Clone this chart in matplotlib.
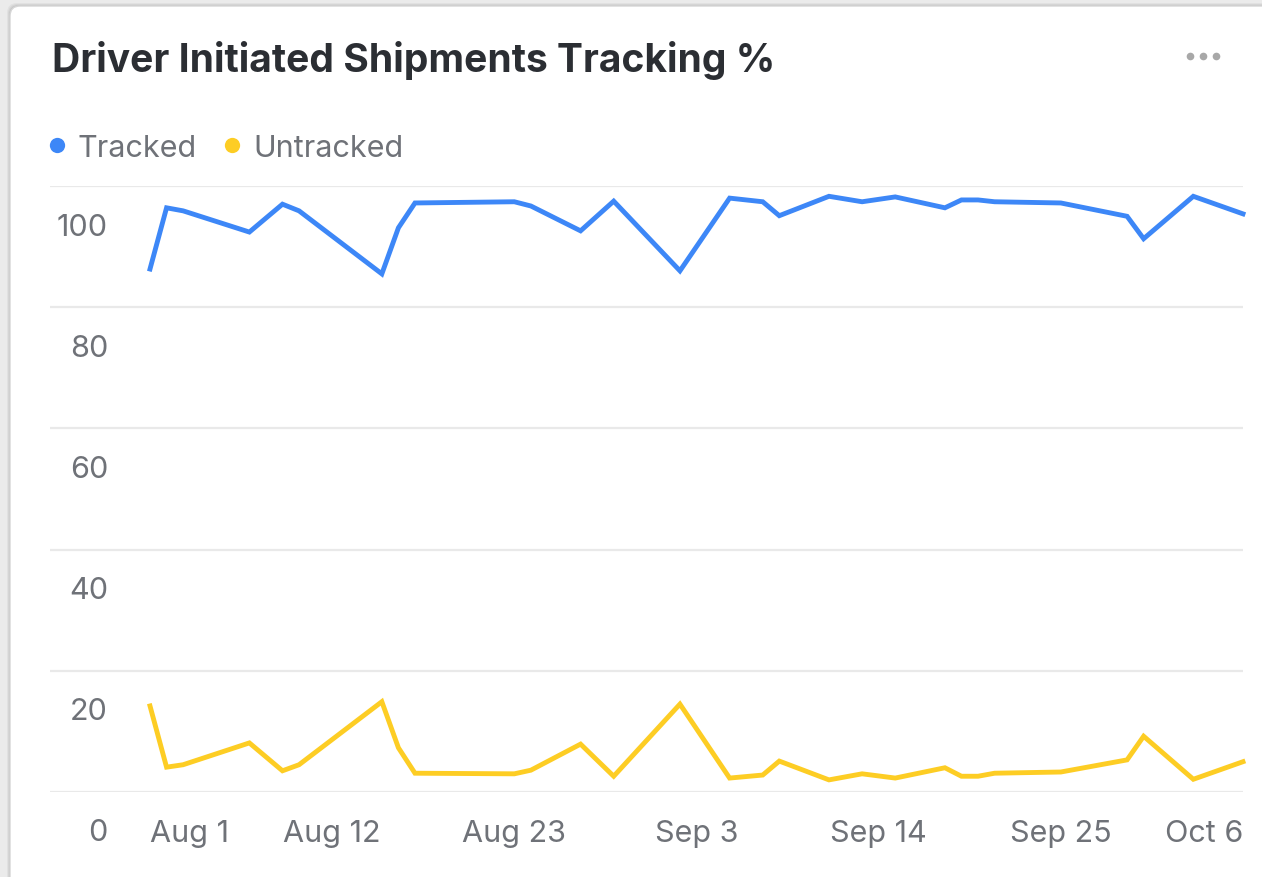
import matplotlib
matplotlib.use("Agg")
import numpy as np
import matplotlib.pyplot as plt
import matplotlib.dates as mdates
from matplotlib.transforms import ScaledTranslation, IdentityTransform
from matplotlib.patches import FancyBboxPatch
from matplotlib.lines import Line2D

plt.rcParams['font.family'] = ['Inter', 'DejaVu Sans']

# ---------------- data ----------------
title = "Driver Initiated Shipments Tracking %"
series_names = ["Tracked", "Untracked"]
dates = ["2023-08-01", "2023-08-02", "2023-08-03", "2023-08-07", "2023-08-09",
         "2023-08-10", "2023-08-15", "2023-08-16", "2023-08-17", "2023-08-23",
         "2023-08-24", "2023-08-27", "2023-08-29", "2023-09-02", "2023-09-05",
         "2023-09-07", "2023-09-08", "2023-09-11", "2023-09-13", "2023-09-15",
         "2023-09-18", "2023-09-19", "2023-09-20", "2023-09-21", "2023-09-25",
         "2023-09-29", "2023-09-30", "2023-10-03", "2023-10-06"]
tracked = [86.3, 96.4, 95.9, 92.4, 97.0, 95.9, 85.5, 93.1, 97.2, 97.4,
           96.7, 92.6, 97.5, 86.0, 98.0, 97.4, 95.1, 98.3, 97.4, 98.2,
           96.4, 97.7, 97.7, 97.4, 97.2, 95.0, 91.3, 98.3, 95.4]
untracked = [14.2, 4.1, 4.5, 8.1, 3.5, 4.5, 14.9, 7.3, 3.1, 3.0,
             3.6, 7.9, 2.6, 14.5, 2.3, 2.8, 5.1, 2.0, 3.0, 2.3,
             4.0, 2.6, 2.6, 3.1, 3.3, 5.3, 9.2, 2.1, 5.0]
x_tick_dates = ["2023-08-01", "2023-08-12", "2023-08-23", "2023-09-03",
                "2023-09-14", "2023-09-25", "2023-10-06"]
x_tick_labels = ["Aug 1", "Aug 12", "Aug 23", "Sep 3", "Sep 14", "Sep 25", "Oct 6"]
y_ticks = [0, 20, 40, 60, 80, 100]
y_tick_labels = ["0", "20", "40", "60", "80", "100"]

# ---------------- styling ----------------
BLUE = "#3d87f7"
YELLOW = "#fdcd24"
TEXT_GRAY = "#6f7278"
W, H = 1262, 878

fig = plt.figure(figsize=(W / 100, H / 100), dpi=100, facecolor="#ebebeb")

# card with soft shadow (drawn beneath the axes)
for i, a in enumerate([0.04, 0.05, 0.07]):
    off = 3 - i
    fig.add_artist(FancyBboxPatch((10 - off, -60), 1400, H - 7 + 60 + off,
                                  boxstyle="round,pad=0,rounding_size=10",
                                  transform=IdentityTransform(),
                                  facecolor="black", edgecolor="none", alpha=a,
                                  zorder=-20))
fig.add_artist(FancyBboxPatch((10, -60), 1400, H - 7 + 60,
                              boxstyle="round,pad=0,rounding_size=10",
                              transform=IdentityTransform(),
                              facecolor="white", edgecolor="#d6d6d6", lw=1,
                              zorder=-10))

fig.text(52 / W, 1 - 72 / H, title, fontsize=28.1, fontweight="bold",
         color="#2b2e33", va="baseline", ha="left")

# menu dots
fig.add_artist(Line2D([1190, 1203, 1216], [H - 57] * 3, transform=IdentityTransform(),
                      ls="none", marker="o", ms=5.5, color="#a8a8a8", mec="none"))

ax = fig.add_axes([50 / W, 1 - 793 / H, (1243 - 50) / W, (793 - 187) / H])
ax.set_facecolor("none")

d = np.array(dates, dtype="datetime64[D]")
ax.plot(d, tracked, color=BLUE, lw=3.5, solid_joinstyle="miter", clip_on=False, zorder=3)
ax.plot(d, untracked, color=YELLOW, lw=3.5, solid_joinstyle="miter", clip_on=False, zorder=3)

x0 = mdates.date2num(d[0])
x1 = mdates.date2num(d[-1])
px_per_day = (1243 - 150) / (x1 - x0)
ax.set_xlim(x0 - (150 - 50) / px_per_day, x1)
ax.set_ylim(0, 100)

ax.set_yticks(y_ticks)
ax.set_yticklabels(y_tick_labels)
ax.set_xticks(np.array(x_tick_dates, dtype="datetime64[D]"))
ax.set_xticklabels(x_tick_labels)
ax.tick_params(length=0, pad=0, labelsize=22, labelcolor=TEXT_GRAY)
for s in ax.spines.values():
    s.set_visible(False)
ax.grid(axis="y", color="#e9e9e9", lw=1.6)
ax.set_axisbelow(True)

for lab in ax.get_yticklabels():
    lab.set_va("baseline")
    lab.set_ha("right")
    lab.set_transform(lab.get_transform() + ScaledTranslation(0.58, -0.485, fig.dpi_scale_trans))
xl = ax.get_xticklabels()
for lab in xl:
    lab.set_va("baseline")
    lab.set_transform(lab.get_transform() + ScaledTranslation(0, -0.49, fig.dpi_scale_trans))
xl[0].set_ha("left")
xl[-1].set_ha("right")

handles = [Line2D([], [], ls="none", marker="o", ms=11, color=c, mec="none")
           for c in (BLUE, YELLOW)]
fig.legend(handles, series_names, loc="center left",
           bbox_to_anchor=(48 / W, 1 - 149 / H), frameon=False, ncol=2,
           fontsize=22, labelcolor=TEXT_GRAY, handlelength=0.6,
           handletextpad=0.38, columnspacing=0.85, borderpad=0, borderaxespad=0)

fig.savefig("out.png", dpi=100, facecolor=fig.get_facecolor())
